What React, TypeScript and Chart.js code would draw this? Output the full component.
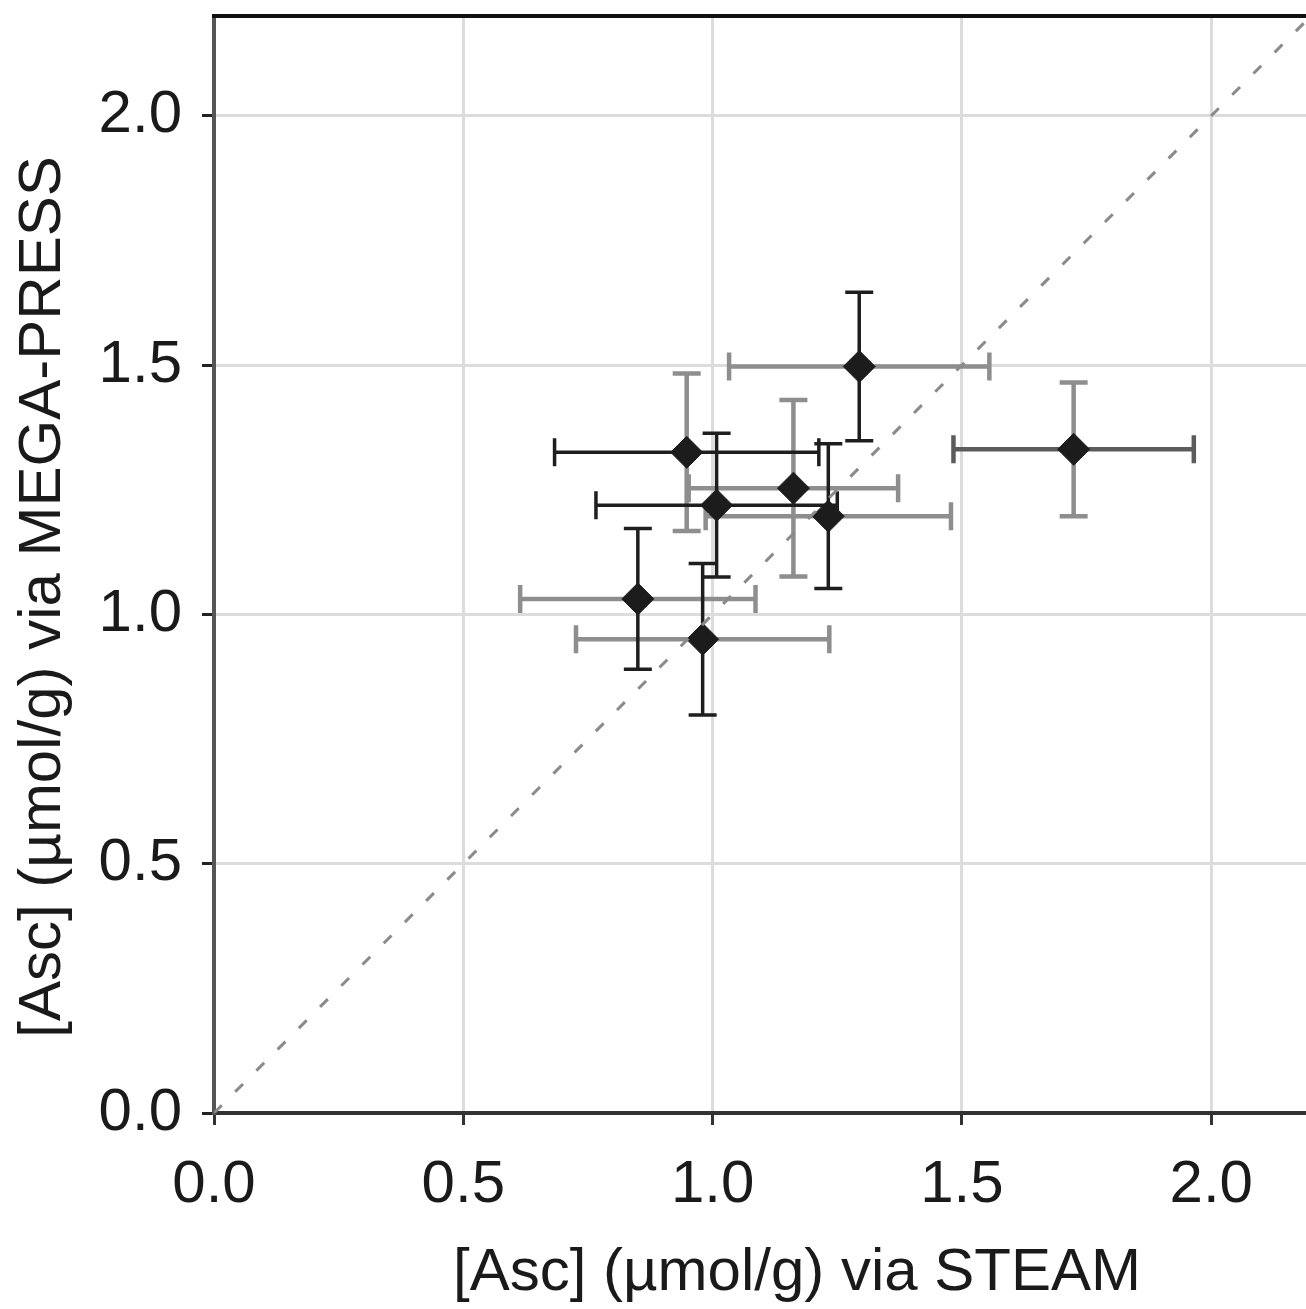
import React, { useEffect, useRef } from "react";
import { Chart, registerables } from "chart.js";
Chart.register(...registerables);

// ---- data ----
const steamX = [1.294, 1.724, 0.948, 1.162, 1.008, 1.232, 0.85, 0.98];
const megaY = [1.497, 1.331, 1.325, 1.253, 1.219, 1.197, 1.031, 0.95];
const steamErr = [0.261, 0.241, 0.265, 0.21, 0.242, 0.246, 0.236, 0.254];
const megaErr = [0.149, 0.134, 0.158, 0.177, 0.144, 0.145, 0.141, 0.152];
const identityLine = [0, 2.2];
const tickValues = [0, 0.5, 1.0, 1.5, 2.0];
const xTitle = "[Asc] (µmol/g) via STEAM";
const yTitle = "[Asc] (µmol/g) via MEGA-PRESS";

// ---- styles ----
const DARK = "#1e1e1e";
const MID = "#5c5c5c";
const GRAY = "#8e8e8e";
const xErrColor = [GRAY, MID, DARK, GRAY, DARK, GRAY, GRAY, GRAY];
const yErrColor = [DARK, GRAY, GRAY, GRAY, DARK, DARK, DARK, DARK];
const FONT = "'Liberation Sans', Arial, sans-serif";

const errorBarPlugin = {
  id: "errorBars",
  beforeDatasetsDraw(chart: any) {
    const xs = chart.scales.x;
    const ys = chart.scales.y;
    const ctx = chart.ctx;
    const cap = 14;
    ctx.save();
    const drawBar = (x1: number, y1: number, x2: number, y2: number, horiz: boolean, color: string) => {
      ctx.strokeStyle = color;
      ctx.lineWidth = color === DARK ? 3.5 : 4.5;
      ctx.lineCap = "butt";
      ctx.beginPath();
      ctx.moveTo(x1, y1);
      ctx.lineTo(x2, y2);
      if (horiz) {
        ctx.moveTo(x1, y1 - cap);
        ctx.lineTo(x1, y1 + cap);
        ctx.moveTo(x2, y2 - cap);
        ctx.lineTo(x2, y2 + cap);
      } else {
        ctx.moveTo(x1 - cap, y1);
        ctx.lineTo(x1 + cap, y1);
        ctx.moveTo(x2 - cap, y2);
        ctx.lineTo(x2 + cap, y2);
      }
      ctx.stroke();
    };
    for (const pass of [0, 1]) {
      for (let i = 0; i < steamX.length; i++) {
        const px = xs.getPixelForValue(steamX[i]);
        const py = ys.getPixelForValue(megaY[i]);
        const xc = xErrColor[i];
        const yc = yErrColor[i];
        if ((xc === DARK ? 1 : 0) === pass) {
          drawBar(xs.getPixelForValue(steamX[i] - steamErr[i]), py, xs.getPixelForValue(steamX[i] + steamErr[i]), py, true, xc);
        }
        if ((yc === DARK ? 1 : 0) === pass) {
          drawBar(px, ys.getPixelForValue(megaY[i] + megaErr[i]), px, ys.getPixelForValue(megaY[i] - megaErr[i]), false, yc);
        }
      }
    }
    ctx.restore();
  },
  afterDraw(chart: any) {
    const ctx = chart.ctx;
    const a = chart.chartArea;
    ctx.save();
    // top frame line
    ctx.strokeStyle = "#111";
    ctx.lineWidth = 4;
    ctx.beginPath();
    ctx.moveTo(a.left - 2, a.top);
    ctx.lineTo(a.right, a.top);
    ctx.stroke();
    // axis titles
    ctx.fillStyle = "#1a1a1a";
    ctx.font = `60px ${FONT}`;
    ctx.textAlign = "center";
    ctx.textBaseline = "alphabetic";
    ctx.fillText(xTitle, a.left + 583, 1290);
    ctx.translate(60, a.top + 581);
    ctx.rotate(-Math.PI / 2);
    ctx.fillText(yTitle, 0, 0);
    ctx.restore();
  },
};

export default function App() {
  const ref = useRef<HTMLCanvasElement | null>(null);
  useEffect(() => {
    if (!ref.current) return;
    const tickOpts = {
      font: { size: 60, family: FONT },
      color: "#1a1a1a",
      stepSize: 0.5,
      includeBounds: false,
      callback: (v: any) => Number(v).toFixed(1),
    };
    const chart = new Chart(ref.current, {
      type: "scatter",
      data: {
        datasets: [
          {
            type: "line",
            data: identityLine.map((v) => ({ x: v, y: v })),
            borderColor: "#8a8a8a",
            borderWidth: 3,
            borderDash: [11, 19],
            pointRadius: 0,
            fill: false,
          } as any,
          {
            data: steamX.map((x, i) => ({ x, y: megaY[i] })),
            pointStyle: "rectRot",
            pointRadius: 16,
            pointHoverRadius: 16,
            backgroundColor: "#1c1c1c",
            borderColor: "#1c1c1c",
            borderWidth: 1,
          },
        ],
      },
      options: {
        animation: false,
        responsive: false,
        devicePixelRatio: 1,
        layout: { autoPadding: false, padding: { top: 16, right: 0, left: 0, bottom: 0 } },
        plugins: { legend: { display: false }, tooltip: { enabled: false } },
        scales: {
          x: {
            type: "linear",
            min: 0,
            max: 2.19,
            afterBuildTicks: (s: any) => {
              s.ticks = tickValues.map((v) => ({ value: v }));
            },
            afterFit: (s: any) => {
              s.height = 196;
              s.paddingLeft = 0;
              s.paddingRight = 0;
            },
            ticks: { ...tickOpts, padding: 24 },
            grid: { color: "#dcdcdc", lineWidth: 3, tickLength: 12, tickColor: "#333", tickWidth: 3 },
            border: { color: "#333", width: 4 },
          },
          y: {
            type: "linear",
            min: 0,
            max: 2.2,
            afterBuildTicks: (s: any) => {
              s.ticks = tickValues.map((v) => ({ value: v }));
            },
            afterFit: (s: any) => {
              s.width = 214;
              s.paddingTop = 0;
              s.paddingBottom = 0;
            },
            ticks: { ...tickOpts, padding: 20 },
            grid: { color: "#dcdcdc", lineWidth: 3, tickLength: 12, tickColor: "#222", tickWidth: 3 },
            border: { color: "#555", width: 4 },
          },
        },
      } as any,
      plugins: [errorBarPlugin],
    });
    return () => chart.destroy();
  }, []);
  return (
    <div style={{ position: "absolute", left: 0, top: 0, width: 1306, height: 1309, background: "#fff" }}>
      <canvas ref={ref} width={1306} height={1309} style={{ display: "block" }} />
    </div>
  );
}
